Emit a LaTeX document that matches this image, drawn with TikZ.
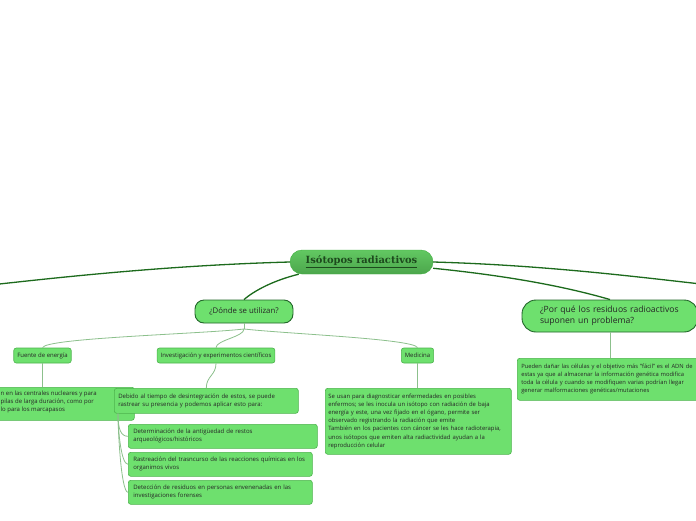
\documentclass[tikz,border=0pt]{standalone}
\usepackage{fontspec}
\setsansfont{Open Sans}
\newfontfamily\titulofont{DejaVu Serif}
\usetikzlibrary{positioning}

% Farben
\definecolor{verdeClaro}{HTML}{6EE06E}
\definecolor{verdeTitA}{HTML}{62C862}
\definecolor{verdeTitB}{HTML}{4CA64C}
\definecolor{bordeTit}{HTML}{3FAF3F}
\definecolor{bordeOsc}{HTML}{22662A}
\definecolor{bordeClaro}{HTML}{4DB34D}
\definecolor{ramaOsc}{HTML}{1C6A1C}
\definecolor{ramaClara}{HTML}{8CC08C}
\definecolor{textoTit}{HTML}{1D4A1D}

\tikzset{
	titulo/.style={draw=bordeTit, top color=verdeTitA, bottom color=verdeTitB, rounded corners=12pt,
		minimum width=143pt, minimum height=24pt, text=textoTit,
		font=\titulofont\bfseries\fontsize{9.9}{11}\selectfont},
	nivel/.style={draw=bordeOsc, fill=verdeClaro, line width=0.9pt, text=black!85,
		font=\sffamily\fontsize{7.8}{10}\selectfont},
	etiqueta/.style={draw=bordeClaro, fill=verdeClaro, rounded corners=2.5pt, line width=0.6pt,
		minimum height=15pt, inner xsep=3.5pt, text=black!85,
		font=\sffamily\fontsize{6}{8.1}\selectfont},
	texto/.style={etiqueta, anchor=north west, align=left, inner xsep=4pt, inner ysep=3pt},
	rama/.style={draw=ramaOsc, line width=1.3pt},
	subrama/.style={draw=ramaClara, line width=0.8pt},
}

\begin{document}
\begin{tikzpicture}[x=1pt, y=-1pt]
	\clip (0,0) rectangle (696,520);
	\fill[white] (0,0) rectangle (696,520);
	
	% Hauptknoten
	\node[titulo] (tit) at (361.5,262) {\underline{Isótopos radiactivos}};
	
	% erste Ebene
	\node[nivel, rounded corners=9pt, minimum width=98pt, minimum height=23pt] (donde) at (244,311.5) {¿Dónde se utilizan?};
	\node[nivel, rounded corners=14pt, minimum width=176pt, minimum height=32pt, align=left, text width=140pt,
		font=\sffamily\fontsize{8.6}{11}\selectfont] (porque) at (610,316) {¿Por qué los residuos radioactivos\\suponen un problema?};
	
	% Äste nach außen (abgeschnitten)
	\coordinate (izq) at (-5,284.5);
	\coordinate (der) at (701,284);
	\draw[rama] (tit.west) .. controls (180,265) and (80,275) .. (izq);
	\draw[rama] (tit.east) .. controls (540,265) and (630,276) .. (der);
	\draw[rama] (tit.191) .. controls (275,280) and (255,290) .. (donde.north);
	\draw[rama] (tit.-5) .. controls (500,275) and (560,285) .. (porque.north);
	
	% zweite Ebene
	\node[etiqueta] (fuente) at (42.5,355.5) {Fuente de energía};
	\node[etiqueta] (invest) at (216,355.5) {Investigación y experimentos científicos};
	\node[etiqueta] (medicina) at (417.5,355.5) {Medicina};
	
	\coordinate (raiz) at (244,329);
	\draw[subrama] (donde.south) -- (raiz);
	\draw[subrama] (raiz) .. controls (200,334) and (45,338) .. (fuente.north);
	\draw[subrama] (raiz) .. controls (244,337) and (216,340) .. (invest.north);
	\draw[subrama] (raiz) .. controls (290,334) and (415,339) .. (medicina.north);
	
	% Textkästen (der linke ragt über den Rand)
	\node[texto, minimum width=164pt, minimum height=33pt] (fuentetxt) at (-30,387) {};
	\node[anchor=north west, align=left, inner sep=0pt, text=black!85,
		font=\sffamily\fontsize{6}{8.1}\selectfont] (fuentelin) at (0.5,390.5) {n en las centrales nucleares y para\\pilas de larga duración, como por\\lo para los marcapasos};
	\node[texto, text width=176pt, minimum height=25pt] (investtxt) at (114,388) {Debido al tiempo de desintegración de estos, se puede\\rastrear su presencia y podemos aplicar esto para:};
	\node[texto, inner xsep=3pt, text width=180pt, minimum height=66pt, font=\sffamily\fontsize{5.9}{8.1}\selectfont] (medtxt) at (325,388) {Se usan para diagnosticar enfermedades en posibles\\enfermos; se les inocula un isótopo con radiación de baja\\energía y este, una vez fijado en el ógano, permite ser\\observado registrando la radiación que emite\\También en los pacientes con cáncer se les hace radioterapia,\\unos isótopos que emiten alta radiactividad ayudan a la\\reproducción celular};
	\node[texto, text width=182pt, minimum height=42pt, font=\sffamily\fontsize{5.8}{8.1}\selectfont] (portxt) at (517,358) {Pueden dañar las células y el objetivo más "fácil" es el ADN de\\estas ya que al almacenar la información genética modifica\\toda la célula y cuando se modifiquen varias podrían llegar\\generar malformaciones genéticas/mutaciones};
	
	\draw[subrama] (fuente.south) -- (fuente.south |- fuentetxt.north);
	\draw[subrama] (invest.south) .. controls +(0,12) and +(0,-12) .. (investtxt.north);
	\draw[subrama] (medicina.south) -- (medicina.south |- medtxt.north);
	\draw[subrama] (porque.south) -- (porque.south |- portxt.north);
	
	% Anwendungen
	\foreach \i/\y/\w/\txt in {
		1/424/179/{Determinación de la antigüedad de restos\\arqueológicos/históricos},
		2/452/174/{Rastreación del trasncurso de las reacciones químicas en los\\organimos vivos},
		3/480/174/{Detección de residuos en personas envenenadas en las\\investigaciones forenses}
	} {
		\node[texto, inner xsep=5pt, text width=\w pt, minimum height=24pt] (uso\i) at (128,\y) {\txt};
		\draw[subrama] ([xshift=4pt]investtxt.south west) .. controls +(0,16) and +(-7,0) .. (uso\i.west);
	}
\end{tikzpicture}
\end{document}
